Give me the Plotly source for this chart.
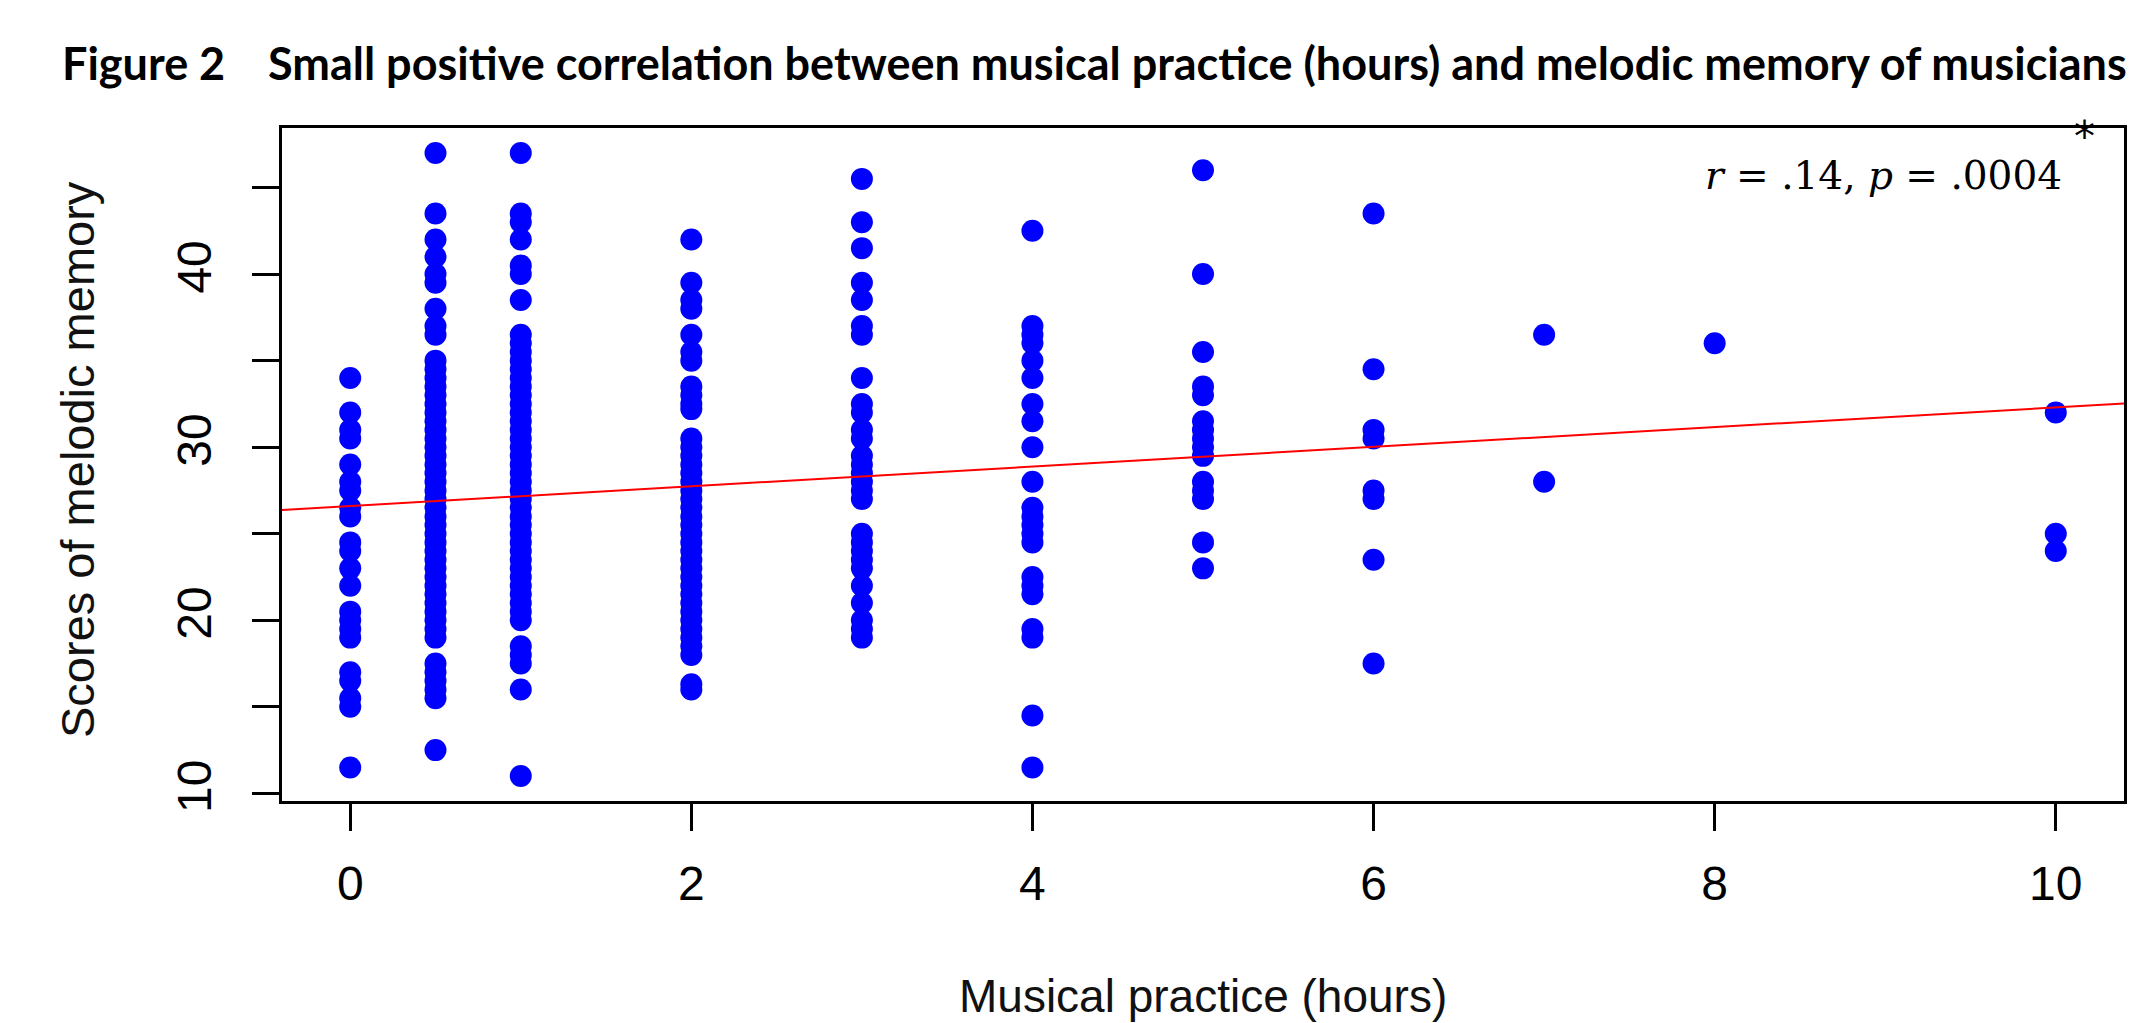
import plotly.graph_objects as go

# ---- data ----
hours = [0, 0.5, 1, 2, 3, 4, 5, 6, 7, 8, 10]

scores_0h = [34, 32, 31, 30.5, 29, 28, 27.5, 26.5, 26, 24.5, 24, 23, 22, 20.5, 20,
             19.5, 19, 17, 16.5, 15.5, 15, 11.5]
scores_05h = [47, 43.5, 42, 41, 40, 39.5, 38, 37, 36.5, 35, 34.5, 34, 33.5, 33, 32.5,
              32, 31.5, 31, 30.5, 30, 29.5, 29, 28.5, 28, 27.5, 27, 26.5, 26, 25.5, 25,
              24.5, 24, 23.5, 23, 22.5, 22, 21.5, 21, 20.5, 20, 19.5, 19, 17.5, 17,
              16.5, 16, 15.5, 12.5]
scores_1h = [47, 43.5, 43, 42, 40.5, 40, 38.5, 36.5, 36, 35.5, 35, 34.5, 34, 33.5, 33,
             32.5, 32, 31.5, 31, 30.5, 30, 29.5, 29, 28.5, 28, 27.5, 27, 26.5, 26, 25.5,
             25, 24.5, 24, 23.5, 23, 22.5, 22, 21.5, 21, 20.5, 20, 18.5, 18, 17.5, 16, 11]
scores_2h = [42, 39.5, 38.5, 38, 36.5, 35.5, 35, 33.5, 33, 32.5, 32.2, 30.5, 30, 29.5,
             29, 28.5, 28, 27.5, 27, 26.5, 26, 25.5, 25, 24.5, 24, 23.5, 23, 22.5, 22,
             21.5, 21, 20.5, 20, 19.5, 19, 18.5, 18, 16.3, 16]
scores_3h = [45.5, 43, 41.5, 39.5, 38.5, 37, 36.5, 34, 32.5, 32, 31, 30.5, 29.5, 29,
             28.5, 28, 27.5, 27, 25, 24.5, 24, 23.5, 23, 22, 21, 20, 19.5, 19]
scores_4h = [42.5, 37, 36.5, 36, 35, 34, 32.5, 31.5, 30, 28, 26.5, 26, 25.5, 25, 24.5,
             22.5, 22, 21.5, 19.5, 19, 14.5, 11.5]
scores_5h = [46, 40, 35.5, 33.5, 33, 31.5, 31, 30.5, 30, 29.5, 28, 27.5, 27, 24.5, 23]
scores_6h = [43.5, 34.5, 31, 30.5, 27.5, 27, 23.5, 17.5]
scores_7h = [36.5, 28]
scores_8h = [36]
scores_10h = [32, 25, 24]

score_columns = [scores_0h, scores_05h, scores_1h, scores_2h, scores_3h, scores_4h,
                 scores_5h, scores_6h, scores_7h, scores_8h, scores_10h]

# fitted regression line
fit_intercept = 26.6
fit_slope = 0.57

x_ticks = [0, 2, 4, 6, 8, 10]
y_ticks = [10, 15, 20, 25, 30, 35, 40, 45]
y_tick_text = ["10", "", "20", "", "30", "", "40", ""]

annotation_text = "<i>r</i> = .14, <i>p</i> = .0004"
title_label = "Figure 2"
title_text = ("Small positive correlation between musical practice (hours) "
              "and melodic memory of musicians")
x_title = "Musical practice (hours)"
y_title = "Scores of melodic memory"

# ---- build ----
xs, ys = [], []
for h, col in zip(hours, score_columns):
    xs.extend([h] * len(col))
    ys.extend(col)

x_range = [-0.4, 10.4]
y_range = [9.56, 48.44]

fig = go.Figure()
fig.add_trace(go.Scatter(
    x=xs, y=ys, mode="markers",
    marker=dict(color="#0000FF", size=22, line=dict(width=0)),
    showlegend=False, hoverinfo="x+y"))
fig.add_trace(go.Scatter(
    x=x_range, y=[fit_intercept + fit_slope * v for v in x_range],
    mode="lines", line=dict(color="#FF0000", width=2),
    showlegend=False, hoverinfo="skip"))

L, R, T, B = 282, 2124, 128, 801
W, H = 2141, 1023


def px(x):
    return (x - L) / (R - L)


def py(y):
    return (B - y) / (B - T)


axis_common = dict(showline=True, linecolor="black", linewidth=3, mirror=True,
                   showgrid=False, zeroline=False, ticks="outside", ticklen=27,
                   tickwidth=2.5, tickcolor="black", automargin=False,
                   tickfont=dict(family="Liberation Sans, Arial", size=48, color="#000"))

fig.update_layout(
    template="none",
    width=W, height=H,
    margin=dict(l=L, r=W - R, t=T, b=H - B, pad=0, autoexpand=False),
    paper_bgcolor="white", plot_bgcolor="white",
    xaxis=dict(range=x_range, tickvals=x_ticks, ticklabelstandoff=11, **axis_common),
    yaxis=dict(range=y_range, tickvals=y_ticks, ticktext=y_tick_text, tickangle=-90,
               ticklabelstandoff=22, **axis_common),
    annotations=[
        dict(text=title_label, x=px(60), y=py(63), xref="paper", yref="paper",
             xanchor="left", yanchor="middle", showarrow=False,
             font=dict(family="Lato", size=45, color="black", weight="bold")),
        dict(text=title_text, x=px(266), y=py(63), xref="paper", yref="paper",
             xanchor="left", yanchor="middle", showarrow=False,
             font=dict(family="Lato", size=45, color="black", weight="bold")),
        dict(text=annotation_text, x=px(2064), y=py(176), xref="paper", yref="paper",
             xanchor="right", yanchor="middle", showarrow=False,
             font=dict(family="DejaVu Serif", size=39, color="black")),
        dict(text="*", x=px(2084), y=py(137), xref="paper", yref="paper",
             xanchor="center", yanchor="middle", showarrow=False,
             font=dict(family="DejaVu Sans", size=42, color="black")),
        dict(text=x_title, x=px(1203), y=py(996), xref="paper", yref="paper",
             xanchor="center", yanchor="middle", showarrow=False,
             font=dict(family="Liberation Sans, Arial", size=46, color="#111")),
        dict(text=y_title, x=px(77), y=py(460), xref="paper", yref="paper",
             xanchor="center", yanchor="middle", showarrow=False, textangle=-90,
             font=dict(family="Liberation Sans, Arial", size=47, color="#111")),
    ],
)

fig.write_html("out.html",
               config={"displayModeBar": False},
               post_script="document.body.style.margin='0';document.body.style.padding='0';")
